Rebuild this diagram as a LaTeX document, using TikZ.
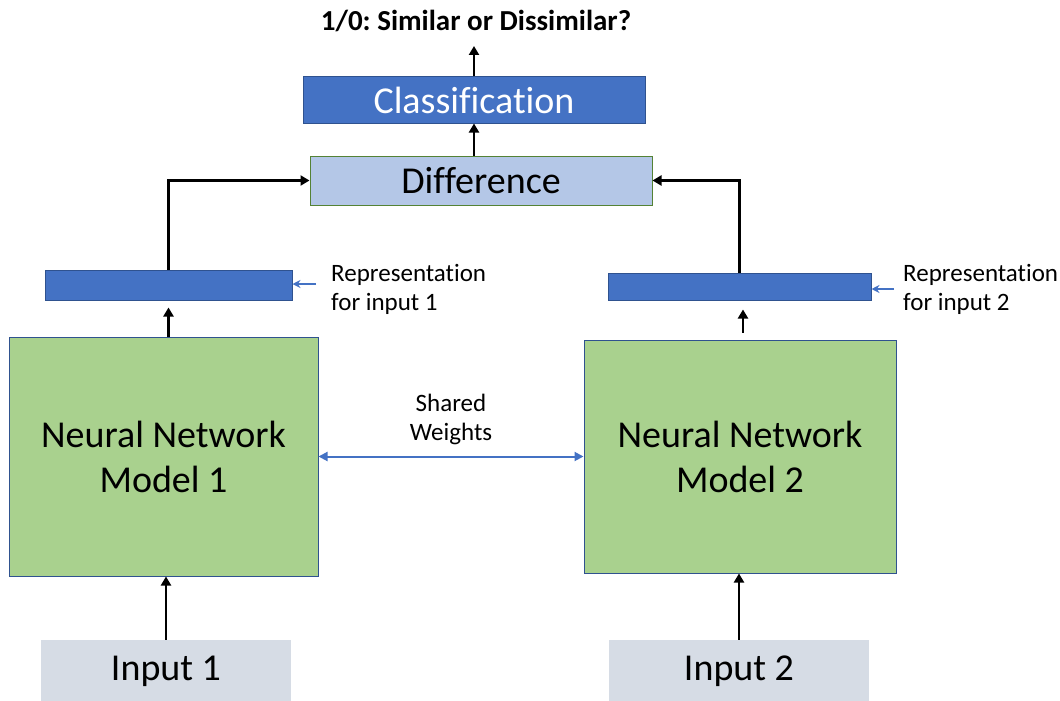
\documentclass[tikz,border=0pt]{standalone}
\usepackage{fontspec}
\setmainfont{Carlito}[Ligatures=NoCommon]
\frenchspacing
\usetikzlibrary{arrows.meta,calc}
\definecolor{dblue}{HTML}{4472C4}
\definecolor{bedge}{HTML}{2F528F}
\definecolor{lblue}{HTML}{B4C7E7}
\definecolor{ngreen}{HTML}{A9D18E}
\definecolor{gedge}{HTML}{548235}
\definecolor{igrey}{HTML}{D6DCE5}
\begin{document}
\begin{tikzpicture}[x=1pt,y=-1pt,
  box/.style={inner sep=0pt, line width=1pt},
  big/.style={font=\fontsize{38}{45}\selectfont},
  small/.style={font=\fontsize{25}{29}\selectfont},
  arr/.style={line width=2.4pt, -{Triangle[length=9pt,width=10pt]}},
  blarr/.style={line width=1.2pt, draw=dblue, -{Stealth[length=8pt,width=8pt]}},
  dblarr/.style={line width=2pt, draw=dblue, {Triangle[length=9pt,width=9pt]}-{Triangle[length=9pt,width=9pt]}}]
\useasboundingbox (0,0) rectangle (1060,701);

% nodes
\node[box, fill=dblue, draw=bedge, minimum width=342pt, minimum height=46pt, big, text=white] (cls) at (474,100) {Classification};
\node[box, fill=lblue, draw=gedge, minimum width=342pt, minimum height=49pt, big] (diff) at (481,180.5) {Difference};
\node[box, fill=dblue, draw=bedge, minimum width=247pt, minimum height=30pt] (rep1) at (168.5,285) {};
\node[box, fill=dblue, draw=bedge, minimum width=263pt, minimum height=27pt] (rep2) at (739.5,286.5) {};
\node[box, fill=ngreen, draw=bedge, minimum width=309pt, minimum height=239pt, big, align=center] (nn1) at (163.5,456.5) {Neural Network\\Model 1};
\node[box, fill=ngreen, draw=bedge, minimum width=312pt, minimum height=233pt, big, align=center] (nn2) at (740,456.5) {Neural Network\\Model 2};
\node[box, fill=igrey, minimum width=250pt, minimum height=62pt, big] (in1) at (166,671) {Input 1};
\node[box, fill=igrey, minimum width=260pt, minimum height=62pt, big] (in2) at (739,671) {Input 2};

\node[inner sep=0pt, font=\fontsize{29}{34}\selectfont\bfseries, anchor=base] (title) at (476,31) {1/0: Similar or Dissimilar?};
\coordinate (ttip) at (474,46);

\node[inner sep=0pt, small, align=left, anchor=north west] (lbl1) at (331,264) {Representation\\for input 1};
\node[inner sep=0pt, small, align=left, anchor=north west] (lbl2) at (903,264) {Representation\\for input 2};
\node[inner sep=0pt, small, align=center] (sw) at (451,419) {Shared\\Weights};

\coordinate (t1) at (316,284);
\coordinate (t2) at (894,289);

% connectors
\draw[arr] (cls.north) -- (ttip);
\draw[arr] (cls.south |- diff.north) -- (cls.south);
\draw[arr] (rep1.north) |- (diff.west);
\draw[arr] (rep2.north) |- (diff.east);
\draw[arr, shorten >=7pt] (rep1.south |- nn1.north) -- (rep1.south);
\draw[arr, shorten <=7pt, shorten >=9pt] (743,0 |- nn2.north) -- (743,0 |- rep2.south);
\draw[arr] (in1.north) -- (in1.north |- nn1.south);
\draw[arr] (in2.north) -- (in2.north |- nn2.south);
\draw[dblarr] (nn1.east) -- (nn2.west);
\draw[blarr] (t1) -- (rep1.east |- t1);
\draw[blarr] (t2) -- (rep2.east |- t2);
\end{tikzpicture}
\end{document}
